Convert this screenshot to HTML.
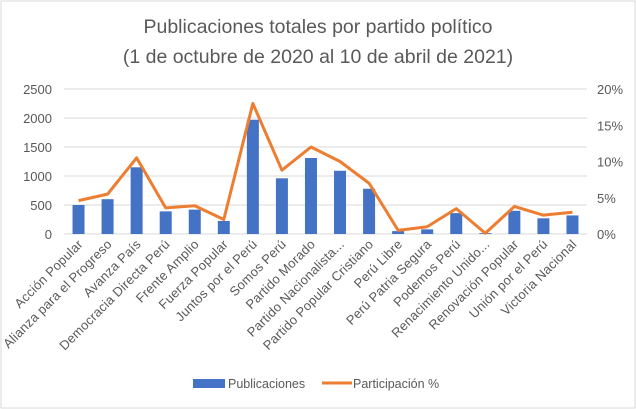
<!DOCTYPE html>
<html><head><meta charset="utf-8"><style>
body{margin:0;background:#fff;}
svg{display:block;font-family:"Liberation Sans",sans-serif;}
</style></head><body>
<svg width="636" height="409" viewBox="0 0 636 409">
<rect x="1" y="1" width="634" height="407" fill="#fff" stroke="#d9d9d9"/>
<text x="318" y="33" text-anchor="middle" font-size="19.5" fill="#595959">Publicaciones totales por partido político</text>
<text x="318" y="63" text-anchor="middle" font-size="19.5" fill="#595959">(1 de octubre de 2020 al 10 de abril de 2021)</text>
<g id="grid"></g><g id="bars"></g><g id="line"></g><g id="axes"></g>
<g>
<rect x="193" y="379" width="32" height="9" fill="#4472c4"/>
<text x="228" y="388" font-size="12.5" fill="#595959">Publicaciones</text>
<line x1="322" y1="383" x2="352" y2="383" stroke="#ed7d31" stroke-width="3"/>
<text x="353" y="388" font-size="12.5" fill="#595959">Participación %</text>
</g>
</svg>
<script>
const categories=["Acción Popular","Alianza para el Progreso","Avanza País","Democracia Directa Perú","Frente Amplio","Fuerza Popular","Juntos por el Perú","Somos Perú","Partido Morado","Partido Nacionalista...","Partido Popular Cristiano","Perú Libre","Perú Patria Segura","Podemos Perú","Renacimiento Unido...","Renovación Popular","Unión por el Perú","Victoria Nacional"];
const publicaciones=[500,600,1150,390,420,225,1970,960,1310,1090,780,50,80,360,15,400,270,320];
const participacion=[4.6,5.5,10.5,3.6,3.9,2.0,18,8.8,12,10,7,0.5,1,3.5,0.1,3.8,2.6,3.0];
const leftTicks=[0,500,1000,1500,2000,2500];
const rightTicks=[0,5,10,15,20];
const NS="http://www.w3.org/2000/svg";
const X0=64,X1=587,Y0=234,Y1=89;
const step=(X1-X0)/categories.length;
const xc=i=>X0+step*(i+0.5);
const yL=v=>Y0-(v/2500)*(Y0-Y1);
const yR=v=>Y0-(v/20)*(Y0-Y1);
function mk(t,a,p){const e=document.createElementNS(NS,t);for(const k in a)e.setAttribute(k,a[k]);document.getElementById(p).appendChild(e);return e;}
leftTicks.forEach(v=>{
 const l=mk("line",{x1:X0,x2:X1,y1:yL(v),y2:yL(v),stroke:"#d9d9d9"},"grid");
 
 
 const t=mk("text",{x:52,y:yL(v)+5,"text-anchor":"end","font-size":"13",fill:"#595959"},"axes");
 t.textContent=v;
 
 
});
rightTicks.forEach(v=>{
 const t=mk("text",{x:597,y:yR(v)+5,"font-size":"13",fill:"#595959"},"axes");
 t.textContent=v+"%";
 
 
});
const bw=12;
publicaciones.forEach((v,i)=>{
 const r=mk("rect",{x:xc(i)-bw/2,y:yL(v),width:bw,height:Y0-yL(v),fill:"#4472c4"},"bars");
 
 
});
const pts=participacion.map((v,i)=>xc(i)+","+yR(v)).join(" ");
const pl=mk("polyline",{points:pts,fill:"none",stroke:"#ed7d31","stroke-width":"3","stroke-linejoin":"round"},"line");


categories.forEach((c,i)=>{
 const x=xc(i)+5,y=Y0+11;
 const t=mk("text",{x:x,y:y,"text-anchor":"end","font-size":"13","letter-spacing":"0.2",fill:"#595959",transform:`rotate(-45 ${x} ${y})`},"axes");
 t.textContent=c;
 
 
});
</script>
</body></html>
